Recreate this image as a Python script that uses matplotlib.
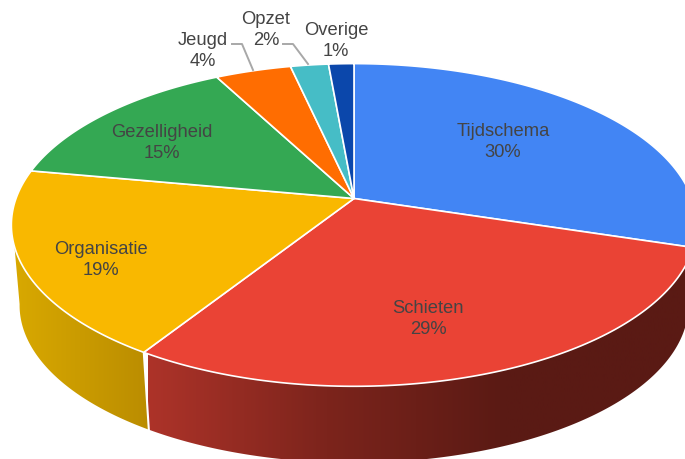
import matplotlib
matplotlib.use("Agg")
import matplotlib.pyplot as plt
import numpy as np
from matplotlib.colors import LinearSegmentedColormap
from matplotlib.patches import Polygon

plt.rcParams['font.family'] = ['Liberation Sans', 'DejaVu Sans']

# waarden (%)
names = ["Tijdschema", "Schieten", "Organisatie", "Gezelligheid", "Jeugd", "Opzet", "Overige"]
values = [29.8, 29.2, 18.9, 14.4, 4.2, 2.1, 1.4]
shown = ["30%", "29%", "19%", "15%", "4%", "2%", "1%"]
colors = ["#4285f4", "#ea4335", "#f9b800", "#34a853", "#ff6d01", "#46bdc6", "#0b47ab"]

# pie geometry in pixels, perspective of a tilted disc
cx, cy = 354, 199.5
rx, ry, k = 338, 157, 0.164
low_dy, low_s = 81, 0.976

fig = plt.figure(figsize=(6.85, 4.6), dpi=100)
ax = fig.add_axes([0, 0, 1, 1])
ax.axis("off")


def rim(theta, low=False):
    # theta in degrees clockwise from the top
    t = np.radians(theta)
    d = 1 + k * np.cos(t)
    x = rx * np.sin(t) / d
    y = -ry * np.cos(t) / d
    if low:
        return cx + low_s * x, cy + low_dy + low_s * y
    return cx + x, cy + y


edges = np.concatenate([[0], np.cumsum(values)]) * 3.6

# zijkanten met kleurverloop: begin, eind boven, eind onder, kleuren, x-bereik
sides = [
    (edges[1], edges[2], edges[2], ["#ad3329", "#7c241c", "#5a1a14", "#5a1a14"], 148, 685),
    (edges[2], 253, 261, ["#bb8d00", "#d9a900"], 148, 12),
]
for a, b_up, b_low, cols, x0, x1 in sides:
    xu, yu = rim(np.linspace(a, b_up, 200))
    xl, yl = rim(np.linspace(a, b_low, 200), True)
    pts = np.column_stack([np.r_[xu, xl[::-1]], np.r_[yu, yl[::-1]]])
    patch = Polygon(pts, closed=True, fc="none", ec="none", transform=ax.transData)
    ax.add_patch(patch)
    cmap = LinearSegmentedColormap.from_list("side", cols)
    grad = np.linspace(0, 1, 256).reshape(1, -1)
    im = ax.imshow(grad, cmap=cmap, extent=(x0, x1, 460, 0), aspect="auto", zorder=1)
    im.set_clip_path(patch)
ax.set_xlim(0, 685)
ax.set_ylim(460, 0)

# witte lijn tussen de zijkanten
xa, ya = rim(edges[2])
xb, yb = rim(edges[2], True)
ax.plot([xa, xb], [ya, yb], color="white", lw=1.5, zorder=2)

# bovenvlak
for i in range(len(values)):
    th = np.linspace(edges[i], edges[i + 1], 120)
    x, y = rim(th)
    pts = np.column_stack([np.r_[cx, x], np.r_[cy, y]])
    ax.add_patch(Polygon(pts, closed=True, fc=colors[i], ec="white", lw=1.2, zorder=3, joinstyle="round"))

# labels
txt = "#444444"
label_pos = [(503, 142), (428, 319), (101, 260), (162, 143), (203, 51), (266, 30), (336, 41)]
for n, s, (x, y) in zip(names, shown, label_pos):
    ax.text(x, y, n + "\n" + s, ha="center", va="center", fontsize=13.2, color=txt,
            linespacing=1.3, zorder=5)

# hulplijnen
ax.plot([232, 242, 253], [45, 45, 71], color="#a8a8a8", lw=1.4, zorder=4)
ax.plot([283, 293, 308], [45, 45, 65], color="#a8a8a8", lw=1.4, zorder=4)

fig.savefig("out.png", dpi=100)
